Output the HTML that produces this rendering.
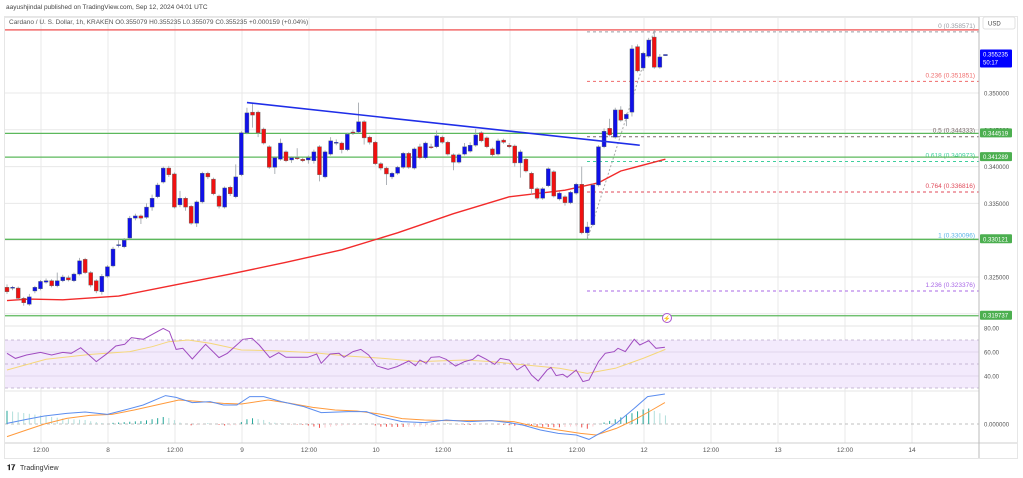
<!DOCTYPE html>
<html><head><meta charset="utf-8"><style>
html,body{margin:0;padding:0;background:#fff;}
svg{display:block;font-family:"Liberation Sans",sans-serif;}
</style></head><body>
<svg id="chart" width="1023" height="478" viewBox="0 0 1023 478" xmlns="http://www.w3.org/2000/svg">
<text x="6" y="9" font-size="6.5" fill="#444">aayushjindal published on TradingView.com, Sep 12, 2024 04:01 UTC</text>
<rect x="4.5" y="16.5" width="1013" height="442" fill="none" stroke="#e6e6e6"/>
<g id="grid"></g>
<rect x="5" y="340" width="974" height="48" fill="#f3eafc"/>
<g id="main"></g>
<g id="rsi"></g>
<g id="macd"></g>
<g id="axis"></g>
<text x="9" y="24" font-size="6.5" fill="#555">Cardano / U. S. Dollar, 1h, KRAKEN  O0.355079  H0.355235  L0.355079  C0.355235  +0.000159 (+0.04%)</text>
<g><text x="7" y="470" font-size="7.5" font-weight="bold" fill="#222">𝟏𝟕</text><text x="20" y="470" font-size="7" fill="#333">TradingView</text></g>
</svg>
<script>
const opens=[.3236,.3235,.3235,.3221,.3213,.3231,.3234,.3243,.3245,.3238,.3245,.3249,.3245,.3254,.3274,.3256,.3245,.3230,.3251,.3265,.3293,.3291,.3303,.3330,.3333,.3331,.3345,.3359,.3379,.3398,.3390,.3348,.3357,.3346,.3323,.3352,.3391,.3383,.3360,.3345,.3372,.3359,.3389,.3446,.3474,.3474,.3451,.3427,.3399,.3410,.3420,.3409,.3412,.3410,.3409,.3408,.3427,.3386,.3417,.3432,.3432,.3423,.3447,.3447,.3461,.3440,.3433,.3404,.3398,.3386,.3391,.3399,.3418,.3398,.3427,.3412,.3427,.3427,.3440,.3433,.3416,.3406,.3417,.3421,.3429,.3446,.3439,.3424,.3417,.3436,.3429,.3428,.3405,.3410,.3391,.3370,.3357,.3374,.3393,.3356,.3359,.3351,.3364,.3376,.3310,.3321,.3375,.3427,.3452,.3440,.3477,.3465,.3474,.3563,.3534,.3550,.3576,.3535,.355079];
const closes=[.3230,.3236,.3221,.3215,.3223,.3236,.3244,.3245,.3238,.3245,.3250,.3246,.3254,.3272,.3256,.3239,.3231,.3251,.3264,.3288,.3294,.3300,.3330,.3333,.3330,.3345,.3357,.3375,.3398,.3389,.3345,.3357,.3345,.3323,.3352,.3391,.3386,.3363,.3346,.3371,.3363,.3386,.3446,.3473,.3470,.3446,.3432,.3399,.3412,.3432,.3408,.3412,.3411,.3408,.3412,.3420,.3389,.3420,.3435,.3433,.3423,.3444,.3446,.3461,.3439,.3433,.3404,.3398,.3390,.3391,.3399,.3418,.3399,.3424,.3412,.3432,.3426,.3442,.3433,.3417,.3406,.3416,.3427,.3429,.3443,.3435,.3427,.3416,.3435,.3433,.3427,.3405,.3420,.3394,.3370,.3357,.3370,.3397,.3360,.3364,.3351,.3365,.3376,.3310,.3318,.3375,.3427,.3448,.3443,.3477,.3463,.3471,.3560,.3530,.3554,.3572,.3535,.3549,.355235];
const highs=[.3240,.3238,.3237,.3223,.3227,.3238,.3246,.3248,.3247,.3256,.3253,.3252,.3256,.3276,.3276,.3258,.3247,.3254,.3266,.3291,.3300,.3303,.3333,.3336,.3335,.3350,.3362,.3378,.3400,.3401,.3392,.3367,.3359,.3348,.3354,.3393,.3393,.3385,.3362,.3373,.3374,.3403,.3448,.3480,.3487,.3476,.3453,.3429,.3414,.3438,.3422,.3414,.3425,.3412,.3415,.3423,.3429,.3422,.3440,.3437,.3434,.3446,.3450,.3487,.3463,.3442,.3435,.3406,.3400,.3393,.3401,.3420,.3420,.3426,.3431,.3434,.3431,.3449,.3442,.3435,.3418,.3418,.3432,.3433,.3451,.3448,.3441,.3426,.3438,.3438,.3432,.3430,.3423,.3412,.3393,.3372,.3372,.3399,.3395,.3366,.3361,.3367,.3378,.3400,.3325,.3377,.3429,.3452,.3465,.3480,.3482,.3473,.3565,.3566,.3556,.3575,.3586,.3553,.355235];
const lows=[.3227,.3232,.3219,.3211,.3211,.3228,.3232,.3241,.3236,.3236,.3243,.3244,.3243,.3252,.3254,.3236,.3228,.3226,.3249,.3263,.3290,.3289,.3301,.3327,.3322,.3329,.3340,.3357,.3377,.3386,.3343,.3345,.3340,.3321,.3318,.3350,.3383,.3361,.3343,.3343,.3360,.3357,.3387,.3444,.3453,.3440,.3430,.3397,.3390,.3408,.3406,.3405,.3409,.3406,.3404,.3404,.3380,.3384,.3415,.3429,.3418,.3421,.3443,.3445,.3430,.3430,.3402,.3395,.3375,.3383,.3389,.3397,.3397,.3396,.3410,.3410,.3424,.3425,.3431,.3415,.3395,.3404,.3415,.3419,.3427,.3433,.3425,.3414,.3415,.3431,.3425,.3400,.3385,.3392,.3362,.3355,.3355,.3372,.3358,.3354,.3347,.3349,.3362,.3308,.3301,.3319,.3373,.3425,.3441,.3438,.3461,.3455,.3468,.3528,.3530,.3548,.3533,.3533,.355079];
const maIdx=[0,4,10,20,30,40,50,60,70,80,90,100,106,110,118];
const maVals=[.3218,.3220,.3219,.3224,.3239,.3254,.3270,.3287,.3310,.3336,.3359,.3368,.3378,.3394,.3410];
const trendIdx=[43,113.4];
const trendVals=[.3487,.3429];
const hLevels=[.344519,.341289,.330121,.319737];
const fibRatios=["0","0.236","0.5","0.618","0.764","1","1.236"];
const fibVals=[.358571,.351851,.344333,.340973,.336816,.330096,.323376];
const fibColors=["#9a9ca3","#ef6b6b","#7a6a6a","#3fcf9d","#e04a5a","#5ab4e6","#a867e6"];
const priceTicks=[.350,.345,.340,.335,.330,.325,.320];
const rsiIdx=[0,1.5,3.5,6,8,10,11.5,13.2,14.7,16,18,19.5,21.1,22.3,24.4,28,29.1,30.3,31.5,33.2,35.6,38,39.5,42.3,43.9,45.2,47.1,48.7,50,53.9,55.5,56.3,57.9,59.5,60.4,62,63.4,64.8,66.3,68.3,69.9,72,73.2,74,75.1,76,77.5,78.7,80.4,82,83.5,84.4,85.9,87.4,88.4,90,91.4,92.8,94,95.2,96.8,97.5,98.4,99.6,100.4,102,103.2,104.3,106,107.2,108.8,109.5,110.8,112.4,113.4,115,116.3,117.9];
const rsiVals=[58.9,54.7,57.5,59.7,57.5,59.7,58.9,63.6,57.5,52,58.9,65,66.4,72,70.6,79.7,77,62.2,63.1,54.2,66.4,55.3,58.9,70.6,71.4,65.8,55.3,59.4,55.6,55.6,58.3,50.6,58.3,58.9,55.6,60.3,62.2,57.5,48.3,45.6,47.8,52.5,48.6,53.3,50.6,55.6,56.1,53.9,48.3,52,53.9,57.5,53.9,49.7,54.7,53.3,45,49.2,40.8,35.8,45,47.2,40.3,41.4,38.9,45,35.3,36.7,52,58.9,60.3,63.1,60.3,70.6,65.8,69.4,63.1,63.9];
const rsiMaIdx=[0,7,15,22,26,29,32.5,36.5,42,48,55,61,67.5,74,82,86.8,93,99,104,109,114,118];
const rsiMaVals=[45,53.9,58,60.3,64.4,68.6,70,67.2,61.7,61.1,59.4,56.7,54.7,52,53.3,52,49.2,46.4,42.2,46.4,54.7,62.2];
const rsiTicks=[80,60,40];
const macdIdx=[0,3.5,6.7,10.7,14,18,21.1,24.4,28.4,30.3,33.2,36.4,38.8,41.2,43.5,46,49.2,53.2,56.3,61.2,64.4,66.8,70.8,74.8,78.7,82.8,86.8,90,92.4,95.6,98.8,102,104.3,106.8,109.2,112.4,114.8,117.9];
const macdVals=[0.3,2.3,4,5.3,6,4.8,7,9.5,14.2,13.3,10.7,11.2,9.5,9.5,13.7,13.7,11.2,8.7,5.7,6.2,6.2,3.7,1.2,0.7,2,1.2,1.7,0.7,-0.5,-3,-4.7,-5.5,-7.7,-3.8,0.3,7.8,13.7,15];
const sigIdx=[0,3.5,6.7,10.7,14.8,18.8,22.8,26.8,30.8,34.8,38.8,42,46.8,50.8,54.8,58.8,62.7,66.8,70.8,74.8,78.7,82.8,86.8,90.8,94.8,98.8,102.8,105.6,109.2,112.4,115.6,117.9];
const sigVals=[-6.3,-3,0,2.8,4.3,4.8,7,9.5,12,11.2,10.3,10,12,10.3,8.3,7,6.5,5,2.7,2,1.7,1.7,1.7,1.2,-1.3,-3,-4.7,-5.5,-2.2,2,7,10.7];
const timeLabels=["12:00","8","12:00","9","12:00","10","12:00","11","12:00","12","12:00","13","12:00","14","12:00"];

const NS="http://www.w3.org/2000/svg";
const X0=7,DX=5.58;
const xi=i=>X0+DX*i;
const yP=p=>93-(p-0.35)*7360;
const yR=v=>328+(80-v)*1.2;
const yM=v=>424-v*2;
function mk(parent,tag,attrs){const e=document.createElementNS(NS,tag);for(const k in attrs)e.setAttribute(k,attrs[k]);parent.appendChild(e);return e;}
const grid=document.getElementById('grid'),main=document.getElementById('main'),rsi=document.getElementById('rsi'),macd=document.getElementById('macd'),axis=document.getElementById('axis');

timeLabels.forEach((t,k)=>{const x=41+k*67.0;
 const l=mk(grid,'line',{x1:x,x2:x,y1:17,y2:443,stroke:'#e8e8e8','stroke-width':1});
 
 
 if(x<978){const tx=mk(axis,'text',{x:x,y:452,'font-size':6.5,fill:'#555','text-anchor':'middle'});tx.textContent=t;
 
 }
});
priceTicks.forEach(p=>{const y=yP(p);
 const l=mk(grid,'line',{x1:5,x2:979,y1:y,y2:y,stroke:'#e8e8e8'});
 
 
 const t=mk(axis,'text',{x:984,y:y+2.5,'font-size':6,fill:'#555'});t.textContent=p.toFixed(6);
 
 
});
mk(grid,'line',{x1:5,x2:979,y1:17.5,y2:17.5,stroke:'#e8e8e8'});
[[5,979,326,326,'#e6e6e6'],[5,979,391,391,'#e6e6e6'],[5,1017,443,443,'#cfcfcf'],[979,979,17,458,'#bbbbbb']].forEach(a=>{
 const l=mk(axis,'line',{x1:a[0],x2:a[1],y1:a[2],y2:a[3],stroke:a[4]});
 
 
});
const topLine=mk(main,'line',{x1:5,x2:979,y1:yP(fibVals[0]),y2:yP(fibVals[0]),stroke:'#f26b6b','stroke-width':1.5});


fibVals.forEach((v,k)=>{const y=yP(v);
 if(k!==5){const l=mk(main,'line',{x1:587,x2:979,y1:y+2,y2:y+2,stroke:fibColors[k],'stroke-dasharray':'3,3'});
 
 }
 const t=mk(main,'text',{x:975,y:y-2,'font-size':6.5,fill:fibColors[k],'text-anchor':'end'});t.textContent=fibRatios[k]+' ('+v.toFixed(6)+')';
 
 
});
const fd=mk(main,'line',{x1:xi(104),y1:yP(fibVals[5]),x2:xi(116),y2:yP(fibVals[0]),stroke:'#aaaaaa','stroke-dasharray':'2,2'});


hLevels.forEach(v=>{const y=yP(v);
 const l=mk(main,'line',{x1:5,x2:979,y1:y,y2:y,stroke:'#5cb85c','stroke-width':1.3});
 
 
});
let d='';maIdx.forEach((i,k)=>{d+=(k?'L':'M')+xi(i).toFixed(1)+','+yP(maVals[k]).toFixed(1);});
const ma=mk(main,'path',{d:d,fill:'none',stroke:'#f22b2b','stroke-width':1.4,'stroke-linejoin':'round'});


opens.forEach((o,i)=>{const c=closes[i],x=xi(i),up=c>=o,col=up?'#1010e8':'#f01010';
 const g=mk(main,'g',{});
 
 
 mk(g,'line',{x1:x,x2:x,y1:yP(highs[i]),y2:yP(lows[i]),stroke:'#9aa0a6','stroke-width':0.8});
 const t=yP(Math.max(o,c)),b=yP(Math.min(o,c));
 mk(g,'rect',{x:x-2,y:t,width:4,height:Math.max(b-t,1),fill:col,stroke:'#5a6a6a','stroke-width':0.4});
});
const tl=mk(main,'line',{x1:xi(trendIdx[0]),y1:yP(trendVals[0]),x2:xi(trendIdx[1]),y2:yP(trendVals[1]),stroke:'#1f2ee8','stroke-width':1.6});


function badge(v,col,txt,h){const y=yP(v);
 const g=mk(axis,'g',{});
 
 
 mk(g,'rect',{x:980,y:y-5,width:32,height:h,fill:col,rx:1});
 txt.forEach((s,k)=>{const t=mk(g,'text',{x:983,y:y+2+k*8,'font-size':6,fill:'#fff'});t.textContent=s;});}
hLevels.forEach(v=>badge(v,'#4caf50',[v.toFixed(6)],9));
badge(closes[closes.length-1],'#0000ff',[closes[closes.length-1].toFixed(6),'50:17'],18);
const usd=mk(axis,'rect',{x:983,y:17,width:32,height:12,fill:'#fff',stroke:'#e0e0e0',rx:2});


const ut=mk(axis,'text',{x:988,y:25.5,'font-size':6,fill:'#444'});ut.textContent='USD';
const li=mk(main,'circle',{cx:667,cy:318,r:4.5,fill:'#fff',stroke:'#a855d0','stroke-width':1});


const lt=mk(main,'text',{x:667,y:320.5,'font-size':6,fill:'#a855d0','text-anchor':'middle'});lt.textContent='⚡';
[[70,'3,3'],[50,'3,3'],[30,'3,3']].forEach(a=>{const l=mk(rsi,'line',{x1:5,x2:979,y1:yR(a[0]),y2:yR(a[0]),stroke:'#b6a6c8','stroke-dasharray':a[1],'stroke-width':0.7});
 
 });
rsiTicks.forEach(v=>{const y=yR(v);
 if(v!==80){const l=mk(rsi,'line',{x1:5,x2:979,y1:y,y2:y,stroke:'#dcd0e8','stroke-width':0.8});}
 const t=mk(axis,'text',{x:984,y:y+2.5,'font-size':6,fill:'#555'});t.textContent=v.toFixed(2);
 
 });
d='';rsiMaIdx.forEach((i,k)=>{d+=(k?'L':'M')+xi(i).toFixed(1)+','+yR(rsiMaVals[k]).toFixed(1);});
const rm=mk(rsi,'path',{d:d,fill:'none',stroke:'#f5d77a','stroke-width':1});


d='';rsiIdx.forEach((i,k)=>{d+=(k?'L':'M')+xi(i).toFixed(1)+','+yR(rsiVals[k]).toFixed(1);});
const rl=mk(rsi,'path',{d:d,fill:'none',stroke:'#a04cc0','stroke-width':1});


const zl=mk(macd,'line',{x1:5,x2:979,y1:yM(0),y2:yM(0),stroke:'#aaa','stroke-dasharray':'3,3','stroke-width':0.7});


const zt=mk(axis,'text',{x:984,y:yM(0)+2.5,'font-size':6,fill:'#555'});zt.textContent='0.000000';
function interp(idx,vals,i){if(i<=idx[0])return vals[0];for(let k=1;k<idx.length;k++){if(i<=idx[k]){const t=(i-idx[k-1])/(idx[k]-idx[k-1]);return vals[k-1]+t*(vals[k]-vals[k-1]);}}return vals[vals.length-1];}
let prev=null;
for(let i=0;i<opens.length;i++){const h=interp(macdIdx,macdVals,i)-interp(sigIdx,sigVals,i);
 const grow=prev===null||Math.abs(h)>=Math.abs(prev);
 const col=h>=0?(grow?'#26a69a':'#b2dfdb'):(grow?'#ef5350':'#ffcdd2');
 const b=mk(macd,'rect',{x:xi(i)-0.5,y:Math.min(yM(0),yM(h)),width:1,height:Math.abs(yM(h)-yM(0)),fill:col});
 
 
 prev=h;}
d='';sigIdx.forEach((i,k)=>{d+=(k?'L':'M')+xi(i).toFixed(1)+','+yM(sigVals[k]).toFixed(1);});
const sl=mk(macd,'path',{d:d,fill:'none',stroke:'#ff9a3c','stroke-width':1});


d='';macdIdx.forEach((i,k)=>{d+=(k?'L':'M')+xi(i).toFixed(1)+','+yM(macdVals[k]).toFixed(1);});
const ml=mk(macd,'path',{d:d,fill:'none',stroke:'#5b8def','stroke-width':1});


</script>
</body></html>
